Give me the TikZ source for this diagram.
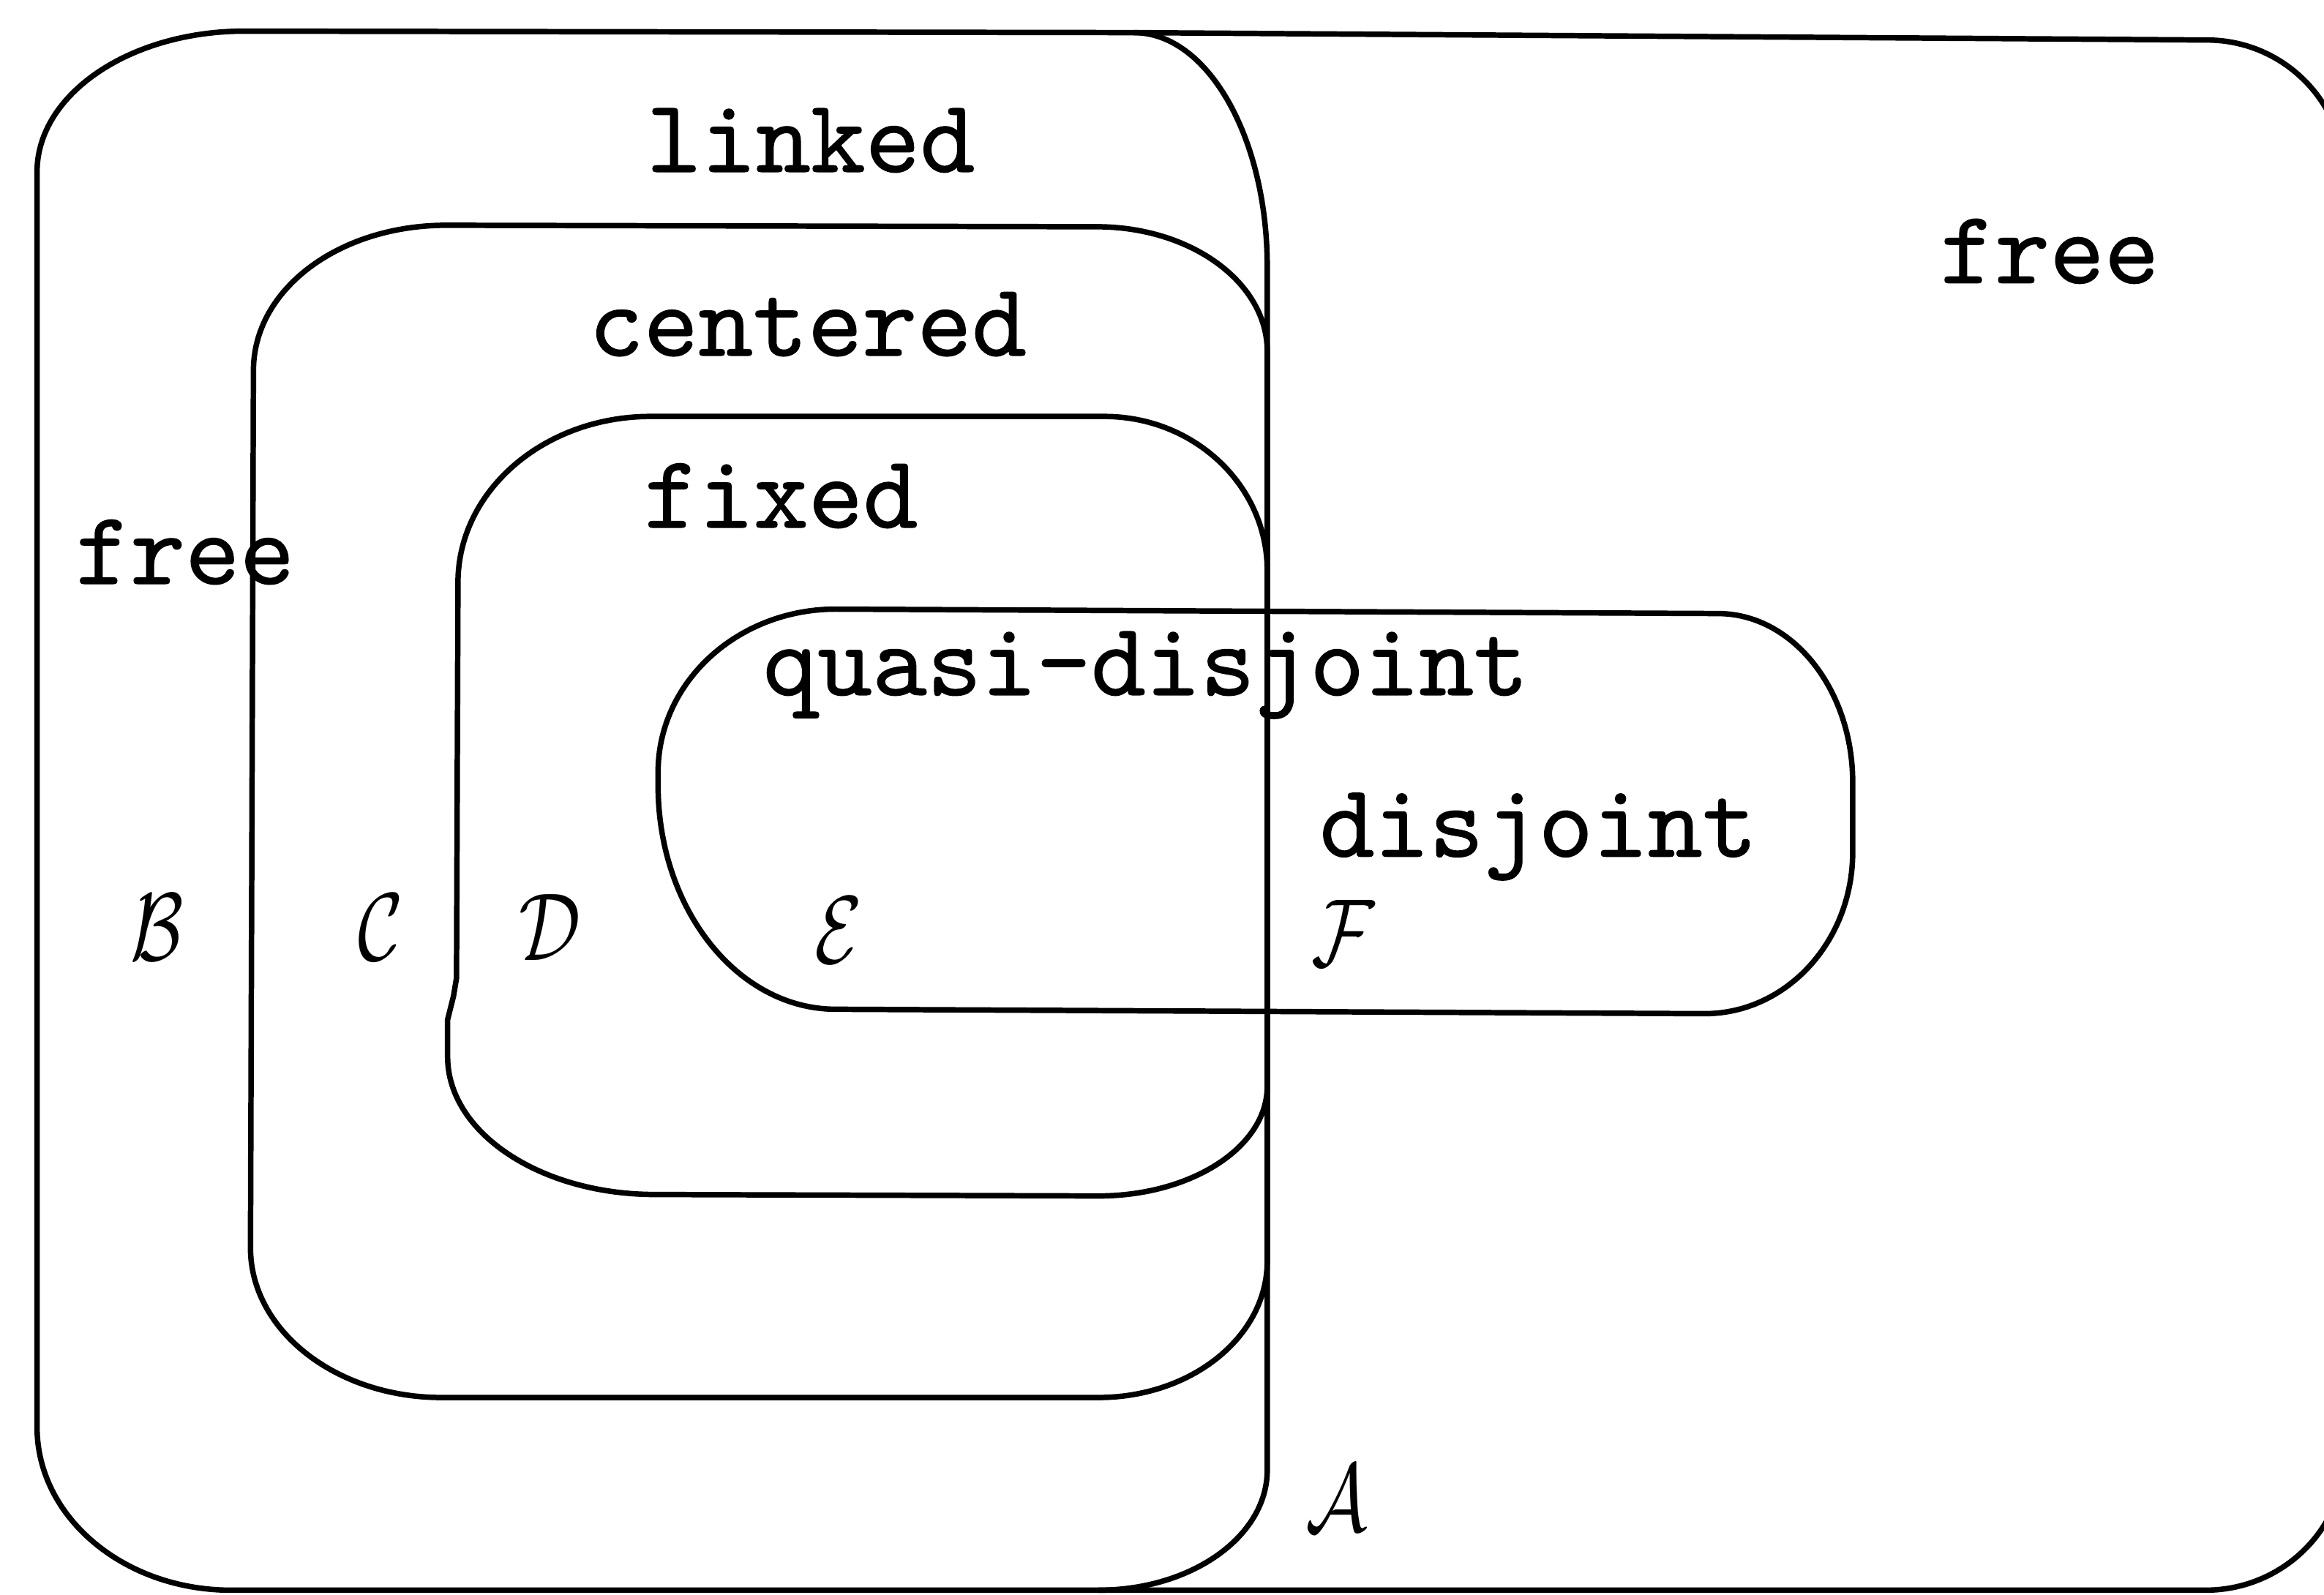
\RequirePackage{fix-cm}
\documentclass[tikz,border=0pt]{standalone}
\usepackage{fontspec}
\newfontfamily\typ{lmmono10-regular}[Extension=.otf, FakeBold=0.8]
\begin{document}
\begin{tikzpicture}[x=0.02cm,y=-0.02cm,
  region/.style={draw=black, line width=2.1pt, line join=round},
  lbl/.style={inner sep=0pt, anchor=base, font=\typ\fontsize{40}{44}\selectfont},
  ltr/.style={inner sep=0pt, anchor=base, xscale=0.8, text height=24pt, text depth=1pt, font=\fontsize{37}{44}\selectfont}]
\useasboundingbox (0,0) rectangle (1568,1076);
\clip (0,0) rectangle (1568,1076);
% outer region (free)
\draw[region] (25,116) .. controls (25,63.5) and (87.7,21) .. (165,21) -- (765,22) -- (1489,27)
  .. controls (1540.4,27) and (1582,68.6) .. (1582,120) -- (1582,981)
  .. controls (1582,1031.8) and (1539.9,1073) .. (1488,1073) -- (156,1073)
  .. controls (83.6,1073) and (25,1023.8) .. (25,963) -- cycle;
% linked region (right boundary)
\draw[region] (765,22) .. controls (814.7,22) and (855,92.7) .. (855,180) -- (855,992)
  .. controls (855,1036.7) and (804,1073) .. (741,1073);
% centered
\draw[region] (171,250) .. controls (171,195) and (229,152) .. (301,152) -- (740,153)
  .. controls (803.5,153) and (855,190.6) .. (855,237) -- (855,851)
  .. controls (855,901.8) and (804,943) .. (741,943) -- (298,943)
  .. controls (226.8,943) and (169,897.8) .. (169,842) -- cycle;
% fixed
\draw[region] (309,393) .. controls (309,331.1) and (367.2,281) .. (439,281) -- (745,281)
  .. controls (805.8,281) and (855,327.6) .. (855,385) -- (855,733)
  .. controls (855,773.9) and (804,807) .. (741,807) -- (442,806)
  .. controls (364.7,806) and (302,764.4) .. (302,713) -- (302,688) -- (306,672) -- (308,660) -- cycle;
% quasi-disjoint
\draw[region] (444,521) .. controls (444,460.2) and (497.7,411) .. (564,411) -- (1159,414)
  .. controls (1209.3,414) and (1250,465) .. (1250,528) -- (1250,575)
  .. controls (1250,635.2) and (1205.2,684) .. (1150,684) -- (564,681)
  .. controls (497.7,681) and (444,613.4) .. (444,530) -- cycle;
% labels
\node[lbl] (tlinked) at (547,116) {linked};
\node[lbl] (tcentered) at (545,240) {centered};
\node[lbl] (tfixed) at (527,356) {fixed};
\node[lbl] (tfreeL) at (125,394) {free};
\node[lbl] (tfreeR) at (1383,191) {free};
\node[lbl] (tquasi) at (773,469) {quasi-disjoint};
\node[lbl] (tdisj) at (1038,578) {disjoint};
\node[ltr] (lB) at (106,648) {$\mathcal{B}$};
\node[ltr] (lC) at (257,648) {$\mathcal{C}$};
\node[ltr] (lD) at (371,648) {$\mathcal{D}$};
\node[ltr] (lE) at (566,650) {$\mathcal{E}$};
\node[ltr] (lF) at (906,652) {$\mathcal{F}$};
\node[ltr] (lA) at (902,1033) {$\mathcal{A}$};
\end{tikzpicture}
\end{document}
